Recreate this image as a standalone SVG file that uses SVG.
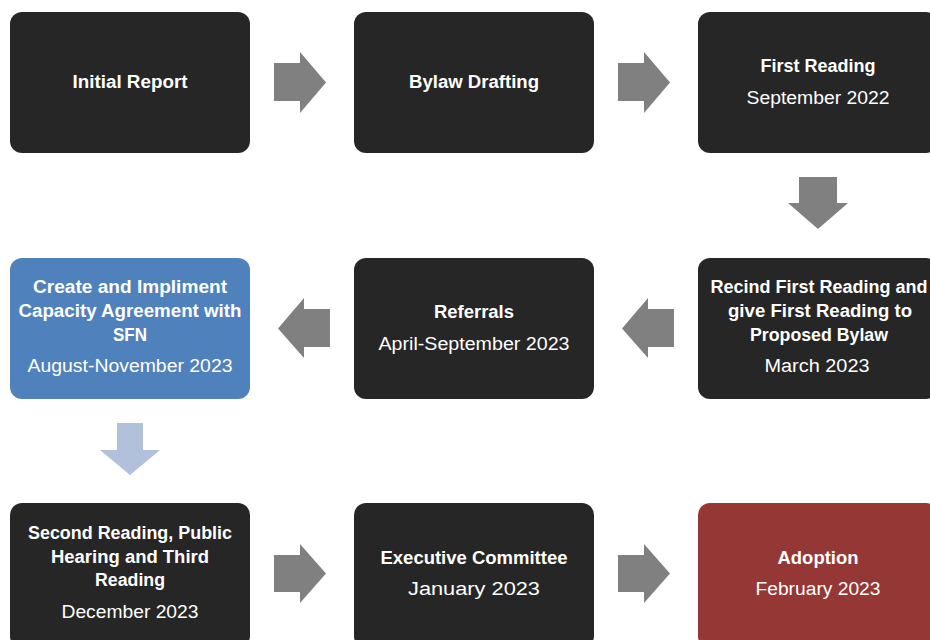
<svg xmlns="http://www.w3.org/2000/svg" width="930" height="640" viewBox="0 0 930 640">
<style>
.box{fill:#262626}
.blue{fill:#4f81bd}
.red{fill:#953735}
.arr{fill:#808080}
.arrl{fill:#b1c1dc}
text{font-family:"Liberation Sans",Arial,sans-serif;font-size:18px;fill:#ffffff;text-anchor:middle}
.b{font-weight:bold}
</style>
<rect width="930" height="640" fill="#ffffff"/>
<g id="connectors">
<polygon class="arr" points="274,63 300,63 300,52 326,82.5 300,113 300,101 274,101"/>
<polygon class="arr" points="618,63 644,63 644,52 670,82.5 644,113 644,101 618,101"/>
<polygon class="arr" points="799,177 837,177 837,203 848,203 818,229 788,203 799,203"/>
<polygon class="arr" points="674,309 674,347 648,347 648,358 622,328.5 648,298 648,309"/>
<polygon class="arr" points="330,309 330,347 304,347 304,358 278,328.5 304,298 304,309"/>
<polygon class="arrl" points="117,423 143,423 143,450 160,450 130,475 100,450 117,450"/>
<polygon class="arr" points="274,555 300,555 300,544 326,573.5 300,603 300,592 274,592"/>
<polygon class="arr" points="618,555 644,555 644,544 670,573.5 644,603 644,592 618,592"/>
</g>
<g id="n1"><rect class="box" x="10" y="12" width="240" height="141" rx="12"/>
<text class="b" x="130" y="88" textLength="115" lengthAdjust="spacingAndGlyphs">Initial Report</text></g>
<g id="n2"><rect class="box" x="354" y="12" width="240" height="141" rx="12"/>
<text class="b" x="474" y="88" textLength="130" lengthAdjust="spacingAndGlyphs">Bylaw Drafting</text></g>
<g id="n3"><rect class="box" x="698" y="12" width="240" height="141" rx="12"/>
<text class="b" x="818" y="72" textLength="115" lengthAdjust="spacingAndGlyphs">First Reading</text>
<text x="818" y="104" textLength="143" lengthAdjust="spacingAndGlyphs">September 2022</text></g>
<g id="n4"><rect class="box" x="698" y="258" width="240" height="141" rx="12"/>
<text class="b" x="819" y="293" textLength="217" lengthAdjust="spacingAndGlyphs">Recind First Reading and</text>
<text class="b" x="820" y="317" textLength="184" lengthAdjust="spacingAndGlyphs">give First Reading to</text>
<text class="b" x="819" y="341" textLength="138" lengthAdjust="spacingAndGlyphs">Proposed Bylaw</text>
<text x="817" y="372" textLength="105" lengthAdjust="spacingAndGlyphs">March 2023</text></g>
<g id="n5"><rect class="box" x="354" y="258" width="240" height="141" rx="12"/>
<text class="b" x="474" y="318" textLength="80" lengthAdjust="spacingAndGlyphs">Referrals</text>
<text x="474" y="350" textLength="191" lengthAdjust="spacingAndGlyphs">April-September 2023</text></g>
<g id="n6"><rect class="blue" x="10" y="258" width="240" height="141" rx="12"/>
<text class="b" x="130" y="293" textLength="194" lengthAdjust="spacingAndGlyphs">Create and Impliment</text>
<text class="b" x="130" y="317" textLength="223" lengthAdjust="spacingAndGlyphs">Capacity Agreement with</text>
<text class="b" x="130" y="341" textLength="34" lengthAdjust="spacingAndGlyphs">SFN</text>
<text x="130" y="372" textLength="205" lengthAdjust="spacingAndGlyphs">August-November 2023</text></g>
<g id="n7"><rect class="box" x="10" y="503" width="240" height="145" rx="12"/>
<text class="b" x="130" y="539" textLength="204" lengthAdjust="spacingAndGlyphs">Second Reading, Public</text>
<text class="b" x="130" y="563" textLength="158" lengthAdjust="spacingAndGlyphs">Hearing and Third</text>
<text class="b" x="130" y="586" textLength="70" lengthAdjust="spacingAndGlyphs">Reading</text>
<text x="130" y="618" textLength="137" lengthAdjust="spacingAndGlyphs">December 2023</text></g>
<g id="n8"><rect class="box" x="354" y="503" width="240" height="145" rx="12"/>
<text class="b" x="474" y="564" textLength="187" lengthAdjust="spacingAndGlyphs">Executive Committee</text>
<text x="474" y="595" textLength="132" lengthAdjust="spacingAndGlyphs">January 2023</text></g>
<g id="n9"><rect class="red" x="698" y="503" width="240" height="145" rx="12"/>
<text class="b" x="818" y="564" textLength="81" lengthAdjust="spacingAndGlyphs">Adoption</text>
<text x="818" y="595" textLength="125" lengthAdjust="spacingAndGlyphs">February 2023</text></g>
</svg>
